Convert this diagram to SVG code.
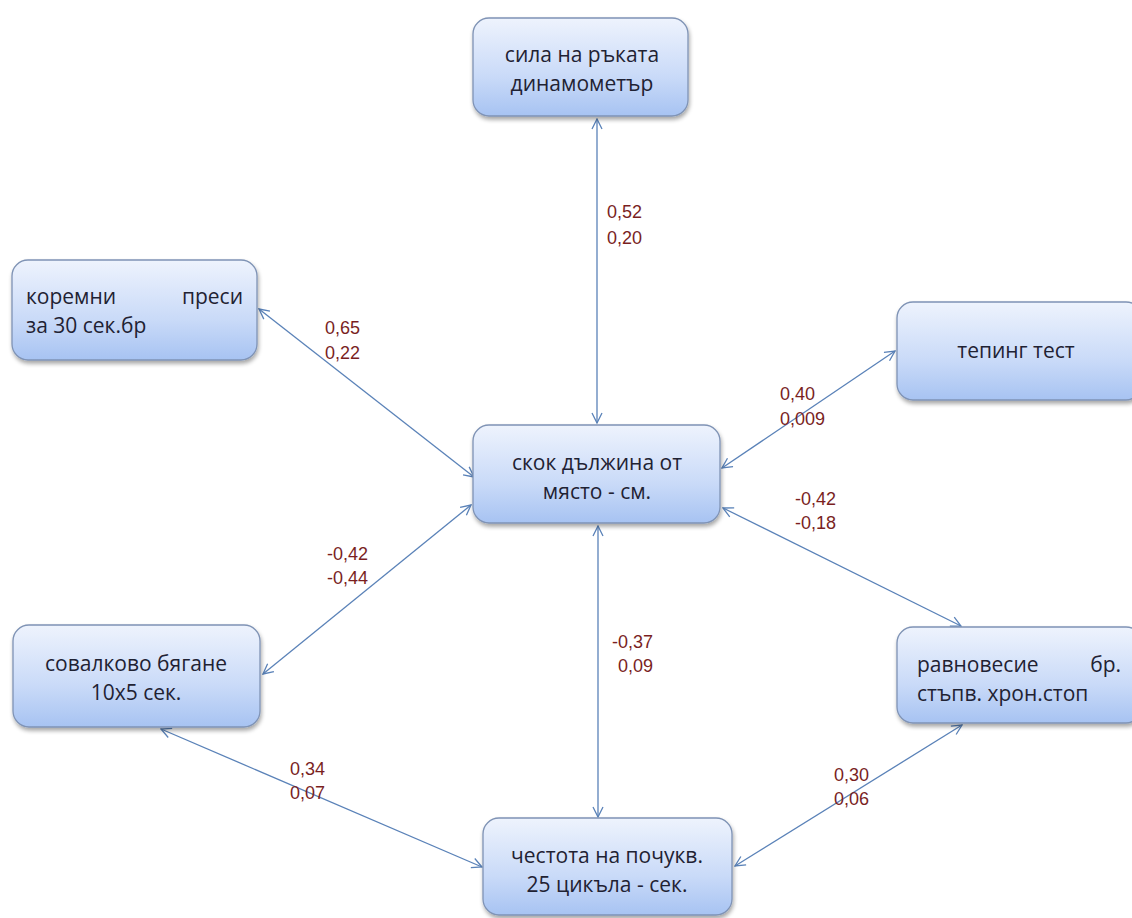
<svg xmlns="http://www.w3.org/2000/svg" width="1132" height="918" viewBox="0 0 1132 918">
<style>
.box{fill:url(#g);stroke:#7f93b5;stroke-width:1.3;filter:url(#sh)}
.t{font-family:"Open Sans","Liberation Sans",Arial,sans-serif;font-size:21px;fill:#1f2233}
.c{text-anchor:middle}
.r{text-anchor:end}
.lab{font-family:"Liberation Sans",Arial,sans-serif;font-size:18px;fill:#7a1f1f}
.ln{stroke:#5a82b8;stroke-width:1.3;fill:none;marker-start:url(#ah);marker-end:url(#ah)}
</style>
<defs>
<linearGradient id="g" x1="0" y1="0" x2="0" y2="1">
<stop offset="0" stop-color="#eef3fd"/>
<stop offset="0.6" stop-color="#c9daf8"/>
<stop offset="1" stop-color="#a7c3f2"/>
</linearGradient>
<filter id="sh" x="-10%" y="-10%" width="125%" height="130%">
<feGaussianBlur in="SourceAlpha" stdDeviation="2"/>
<feOffset dx="1" dy="3" result="b"/>
<feComponentTransfer><feFuncA type="linear" slope="0.35"/></feComponentTransfer>
<feMerge><feMergeNode/><feMergeNode in="SourceGraphic"/></feMerge>
</filter>
<marker id="ah" viewBox="0 0 12 12" refX="11" refY="6" markerWidth="12" markerHeight="12" markerUnits="userSpaceOnUse" orient="auto-start-reverse">
<path d="M1,1 L11,6 L1,11" fill="none" stroke="#5a82b8" stroke-width="1.3"/>
</marker>
</defs>

<g id="connectors">
<line class="ln" x1="597" y1="119" x2="597" y2="423"/>
<line class="ln" x1="259" y1="309" x2="474" y2="477"/>
<line class="ln" x1="895" y1="351" x2="722" y2="468"/>
<line class="ln" x1="263" y1="674" x2="471" y2="505"/>
<line class="ln" x1="723" y1="508" x2="961" y2="626"/>
<line class="ln" x1="598" y1="526" x2="598" y2="817"/>
<line class="ln" x1="161" y1="729" x2="482" y2="867"/>
<line class="ln" x1="962" y1="725" x2="735" y2="866"/>
</g>

<g id="labels">
<text class="lab" x="607" y="218">0,52</text>
<text class="lab" x="607" y="244">0,20</text>
<text class="lab" x="325" y="334">0,65</text>
<text class="lab" x="325" y="359">0,22</text>
<text class="lab" x="780" y="400">0,40</text>
<text class="lab" x="780" y="425">0,009</text>
<text class="lab" x="795" y="505">-0,42</text>
<text class="lab" x="795" y="529">-0,18</text>
<text class="lab" x="327" y="560">-0,42</text>
<text class="lab" x="327" y="584">-0,44</text>
<text class="lab" x="612" y="648">-0,37</text>
<text class="lab" x="618" y="672">0,09</text>
<text class="lab" x="290" y="775">0,34</text>
<text class="lab" x="290" y="799">0,07</text>
<text class="lab" x="834" y="781">0,30</text>
<text class="lab" x="834" y="805">0,06</text>
</g>

<g id="n-sila">
<rect class="box" x="473" y="18" width="215" height="98" rx="16"/>
<text class="t c" x="582" y="62">сила на ръката</text>
<text class="t c" x="582" y="91">динамометър</text>
</g>
<g id="n-koremni">
<rect class="box" x="12" y="260" width="245" height="100" rx="16"/>
<text class="t" x="26" y="304">коремни</text>
<text class="t r" x="243" y="304">преси</text>
<text class="t" x="26" y="333">за 30 сек.бр</text>
</g>
<g id="n-skok">
<rect class="box" x="473" y="425" width="247" height="98" rx="16"/>
<text class="t c" x="597" y="470">скок дължина от</text>
<text class="t c" x="597" y="499">място - см.</text>
</g>
<g id="n-teping">
<rect class="box" x="897" y="302" width="245" height="98" rx="16"/>
<text class="t c" x="1016" y="358">тепинг тест</text>
</g>
<g id="n-sovalkovo">
<rect class="box" x="13" y="625" width="247" height="102" rx="16"/>
<text class="t c" x="136" y="671">совалково бягане</text>
<text class="t c" x="136" y="700">10x5 сек.</text>
</g>
<g id="n-ravnovesie">
<rect class="box" x="897" y="627" width="245" height="96" rx="16"/>
<text class="t" x="917" y="672">равновесие</text>
<text class="t r" x="1121" y="672">бр.</text>
<text class="t" x="917" y="701">стъпв. хрон.стоп</text>
</g>
<g id="n-chestota">
<rect class="box" x="483" y="818" width="249" height="97" rx="16"/>
<text class="t c" x="607" y="863">честота на почукв.</text>
<text class="t c" x="607" y="892">25 цикъла - сек.</text>
</g>
</svg>
